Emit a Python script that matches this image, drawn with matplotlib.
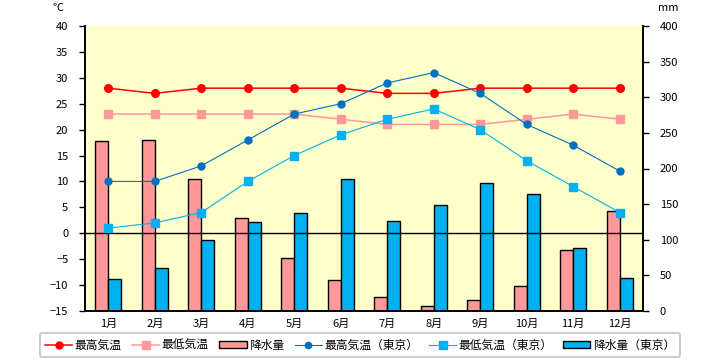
import matplotlib
matplotlib.use("Agg")
import matplotlib.pyplot as plt
from matplotlib.lines import Line2D
from matplotlib.patches import Patch
import numpy as np

plt.rcParams["font.family"] = ["Noto Sans CJK JP", "DejaVu Sans"]

months = ["1月", "2月", "3月", "4月", "5月", "6月", "7月", "8月", "9月", "10月", "11月", "12月"]
tmax = [28, 27, 28, 28, 28, 28, 27, 27, 28, 28, 28, 28]
tmin = [23, 23, 23, 23, 23, 22, 21, 21, 21, 22, 23, 22]
rain = [238, 240, 185, 130, 74, 44, 19, 7, 16, 35, 86, 140]
tmax_tokyo = [10, 10, 13, 18, 23, 25, 29, 31, 27, 21, 17, 12]
tmin_tokyo = [1, 2, 4, 10, 15, 19, 22, 24, 20, 14, 9, 4]
rain_tokyo = [45, 60, 100, 125, 138, 185, 126, 149, 179, 164, 89, 46]

RED = "#ff0000"
PINK = "#ff9999"
BLUE = "#0070c0"
CYAN = "#00b0f0"

fig = plt.figure(figsize=(7.2, 3.6), dpi=100)
ax = fig.add_axes([85 / 720, 1 - 311 / 360, 558 / 720, 285 / 360])
ax.set_facecolor("#ffffcc")
x = np.arange(len(months))
w = 0.28

# bars on the mm scale (drawn first so the lines sit on top)
ax.bar(x - w / 2, rain, w, color=PINK, edgecolor="black", linewidth=1, zorder=2)
ax.bar(x + w / 2, rain_tokyo, w, color=CYAN, edgecolor="black", linewidth=1, zorder=2)
ax.set_ylim(0, 400)
ax.set_xlim(-0.5, 11.5)
ax.set_xticks(x)
ax.set_xticklabels(months, fontsize=8)
ax.tick_params(axis="x", length=0, pad=6)

# temperature lines on the C scale
ax2 = ax.twinx()
ax2.set_facecolor("none")
ax2.yaxis.tick_left()
ax2.yaxis.set_label_position("left")
ax.yaxis.tick_right()
ax.yaxis.set_label_position("right")
ax.set_yticks(range(0, 401, 50))
ax.tick_params(axis="y", labelsize=8, length=4, width=1, pad=8)
ax2.set_ylim(-15, 40)
ax2.set_yticks(range(-15, 41, 5))
ax2.tick_params(axis="y", labelsize=8, length=4, width=1, pad=8)
ax2.axhline(0, color="black", linewidth=1, zorder=1)
ax2.plot(x, tmax, color=RED, marker="o", ms=5.5, lw=1.1, zorder=3)
ax2.plot(x, tmin, color=PINK, marker="s", ms=5.2, lw=1.1, zorder=3)
ax2.plot(x, tmax_tokyo, color=BLUE, marker="o", ms=5, lw=0.8, zorder=3)
ax2.plot(x, tmin_tokyo, color=CYAN, marker="s", ms=5.3, lw=0.8, zorder=3)

for a in (ax, ax2):
    a.spines["top"].set_visible(False)
    for s in ("left", "right", "bottom"):
        a.spines[s].set_linewidth(1.2)

fig.text(58 / 720, 1 - 8 / 360, "℃", fontsize=8, ha="center", va="center")
fig.text(668 / 720, 1 - 8 / 360, "mm", fontsize=8, ha="center", va="center")

handles = [
    Line2D([], [], color=RED, marker="o", ms=5, lw=1.1),
    Line2D([], [], color=PINK, marker="s", ms=6, lw=1.1),
    Patch(facecolor=PINK, edgecolor="black", linewidth=1),
    Line2D([], [], color=BLUE, marker="o", ms=4.5, lw=0.8),
    Line2D([], [], color=CYAN, marker="s", ms=6, lw=0.8),
    Patch(facecolor=CYAN, edgecolor="black", linewidth=1),
]
labels = ["最高気温", "最低気温", "降水量", "最高気温（東京）", "最低気温（東京）", "降水量（東京）"]
leg = fig.legend(handles, labels, ncol=6, loc="center",
                 bbox_to_anchor=(360 / 720, 1 - 345 / 360), fontsize=8.5,
                 frameon=True, fancybox=True, edgecolor="#c0c0c0",
                 handlelength=2.3, handleheight=0.55, handletextpad=0.2,
                 columnspacing=0.9, borderpad=0.45)
leg.get_frame().set_linewidth(1.5)

fig.savefig("out.png", dpi=100)
